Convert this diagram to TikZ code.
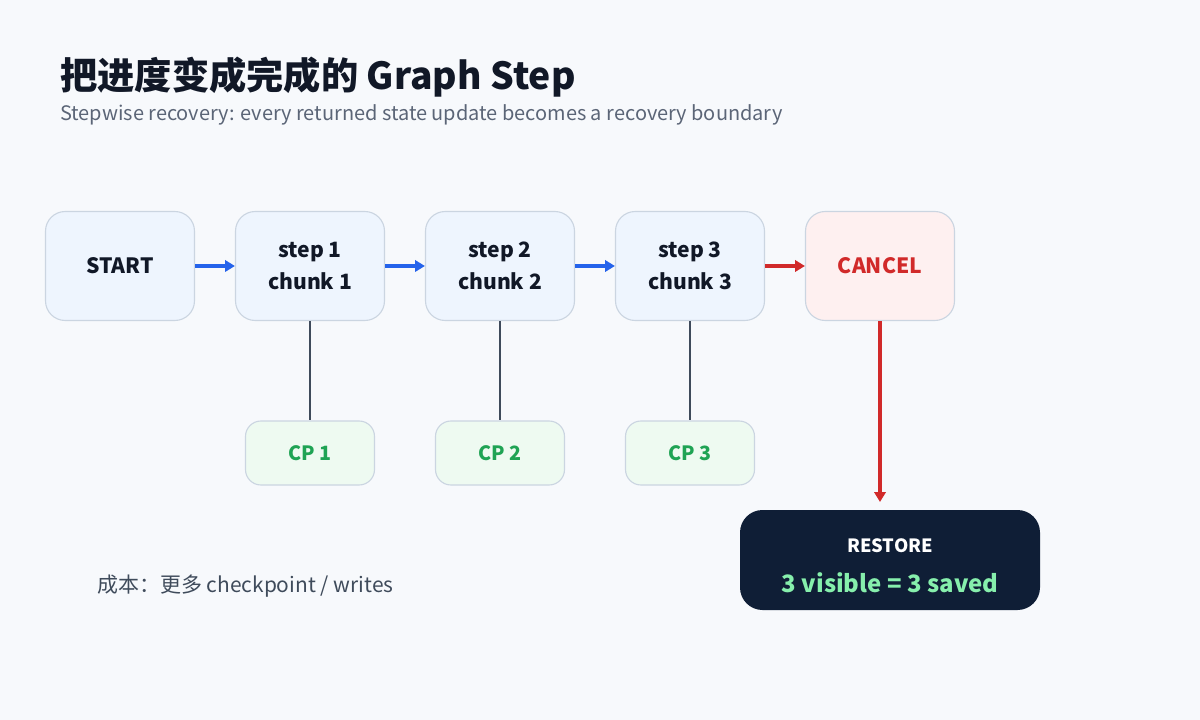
\documentclass[tikz,border=0pt]{standalone}
\usepackage{fontspec}
\setmainfont{Noto Sans CJK SC}
\usetikzlibrary{arrows.meta}
\definecolor{bg}{HTML}{F7F9FC}
\definecolor{bluefill}{HTML}{EEF5FE}
\definecolor{boxline}{HTML}{CBD5E1}
\definecolor{redfill}{HTML}{FEF0F0}
\definecolor{redc}{HTML}{D12A2A}
\definecolor{greenfill}{HTML}{EEFAF1}
\definecolor{greenc}{HTML}{1FA354}
\definecolor{navy}{HTML}{0F1E36}
\definecolor{titlec}{HTML}{111827}
\definecolor{subc}{HTML}{5B6577}
\definecolor{bluec}{HTML}{2563EB}
\definecolor{linec}{HTML}{3F4B5B}
\definecolor{mint}{HTML}{86EFAC}
\tikzset{
  x=0.025cm,y=-0.025cm,
  box/.style={draw=boxline,line width=0.8pt,rounded corners=14pt,minimum width=149*0.025cm,minimum height=109*0.025cm,align=center,font=\fontsize{15}{22.7}\selectfont\bfseries,inner sep=0},
  stepbox/.style={box,fill=bluefill,text=titlec},
  cp/.style={draw=boxline,line width=0.8pt,fill=greenfill,rounded corners=11pt,minimum width=129*0.025cm,minimum height=64*0.025cm,font=\fontsize{14}{17}\selectfont\bfseries,text=greenc},
  barr/.style={-{Triangle[length=7pt,width=8pt]},line width=2.2pt,draw=bluec},
  rarr/.style={-{Triangle[length=7pt,width=8pt]},line width=2.2pt,draw=redc},
  vline/.style={line width=1.6pt,draw=linec}
}
\begin{document}
\begin{tikzpicture}
\fill[bg] (0,0) rectangle (1200,720);
\useasboundingbox (0,0) rectangle (1200,720);
\node[anchor=west,font=\fontsize{26.5}{30}\selectfont\bfseries,text=titlec,inner sep=0] (title) at (60,77) {把进度变成完成的 Graph Step};
\node[anchor=west,font=\fontsize{14.2}{17}\selectfont,text=subc,inner sep=0] (sub) at (60,115) {Stepwise recovery: every returned state update becomes a recovery boundary};
\node[stepbox] (start) at (120,266) {START};
\node[stepbox] (s1) at (310,266) {step 1\\chunk 1};
\node[stepbox] (s2) at (500,266) {step 2\\chunk 2};
\node[stepbox] (s3) at (690,266) {step 3\\chunk 3};
\node[box,fill=redfill,text=redc] (cancel) at (880,266) {CANCEL};
\node[cp] (cp1) at (310,453) {CP 1};
\node[cp] (cp2) at (500,453) {CP 2};
\node[cp] (cp3) at (690,453) {CP 3};
\node[fill=navy,rounded corners=16pt,minimum width=300*0.025cm,minimum height=100*0.025cm] (restore) at (890,560) {};
\node[font=\fontsize{13}{16}\selectfont\bfseries,text=white] (rt) at (890,546) {RESTORE};
\node[font=\fontsize{17}{20}\selectfont\bfseries,text=mint] (rv) at (890,583) {3 visible = 3 saved};
\coordinate (rin) at (880,502);
\node[anchor=west,font=\fontsize{14.9}{18}\selectfont,text=linec,inner sep=0] (cost) at (97,586) {成本：更多 checkpoint / writes};
\draw[barr] (start) -- (s1);
\draw[barr] (s1) -- (s2);
\draw[barr] (s2) -- (s3);
\draw[rarr] (s3) -- (cancel);
\draw[rarr] (cancel.south) -- (rin);
\draw[vline] (s1) -- (cp1);
\draw[vline] (s2) -- (cp2);
\draw[vline] (s3) -- (cp3);
\end{tikzpicture}
\end{document}
